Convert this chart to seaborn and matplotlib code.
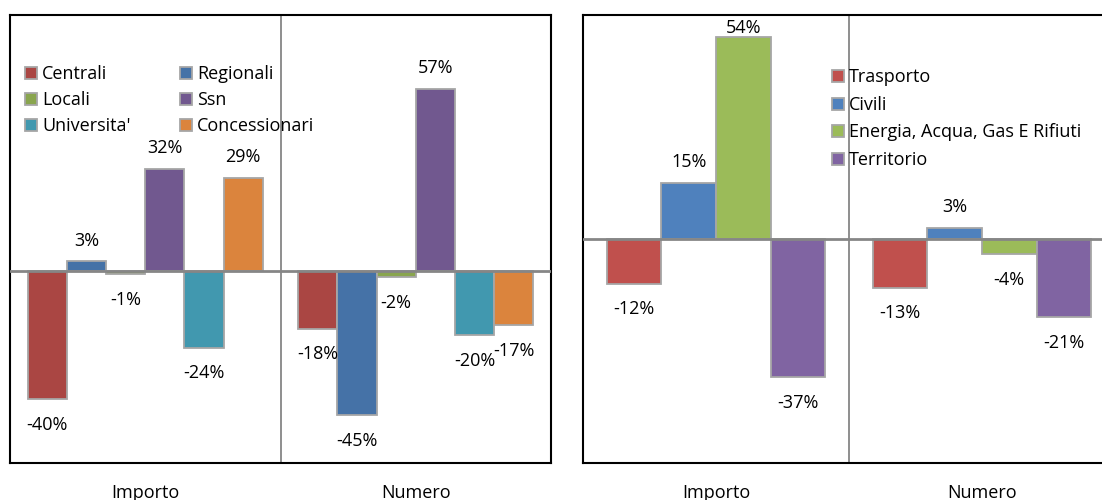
import matplotlib
matplotlib.use("Agg")
import matplotlib.pyplot as plt
import seaborn as sns
import pandas as pd

sns.set_theme(style="white")
plt.rcParams['font.family'] = ['Open Sans', 'DejaVu Sans']
plt.rcParams['text.color'] = 'black'
plt.rcParams['xtick.color'] = 'black'

# Data
groups = ["Importo", "Numero"]

enti = ["Centrali", "Regionali", "Locali", "Ssn", "Universita'", "Concessionari"]
enti_importo = [-40, 3, -1, 32, -24, 29]
enti_numero = [-18, -45, -2, 57, -20, -17]
enti_colors = ["#AA4643", "#4572A7", "#89A54E", "#71588F", "#4198AF", "#DB843D"]

settori = ["Trasporto", "Civili", "Energia, Acqua, Gas E Rifiuti", "Territorio"]
settori_importo = [-12, 15, 54, -37]
settori_numero = [-13, 3, -4, -21]
settori_colors = ["#C0504D", "#4F81BD", "#9BBB59", "#8064A2"]


def long_table(cats, importo, numero):
    rows = []
    for c, a, b in zip(cats, importo, numero):
        rows.append({"group": groups[0], "cat": c, "val": a})
        rows.append({"group": groups[1], "cat": c, "val": b})
    return pd.DataFrame(rows)


FS = 13
fig = plt.figure(figsize=(11.02, 5.0), dpi=100)
ax1 = fig.add_axes([10 / 1102, 37 / 500, 541 / 1102, 448 / 500])
ax2 = fig.add_axes([583 / 1102, 37 / 500, 532 / 1102, 448 / 500])


def draw_panel(ax, cats, importo, numero, colors, width, ylim, order, leg_kw):
    df = long_table(cats, importo, numero)
    sns.barplot(data=df, x="group", y="val", hue="cat", hue_order=cats,
                order=groups, palette=colors, width=width, gap=0,
                edgecolor="#a6a6a6", linewidth=1.3, saturation=1,
                ax=ax, zorder=2)
    ax.set_xlim(-0.5, 1.5)
    ax.set_ylim(*ylim)
    ax.set_yticks([])
    ax.set(xlabel="", ylabel="")
    ax.tick_params(axis="x", length=0, pad=15, labelsize=FS)
    ax.axhline(0, color="#868686", lw=2, zorder=3)
    ax.axvline(0.5, color="#868686", lw=1.3, zorder=1)
    for s in ax.spines.values():
        s.set_color("black")
        s.set_linewidth(1.5)
    for c in ax.containers:
        ax.bar_label(c, fmt="{:.0f}%", padding=12, fontsize=FS)
    # smaller gap above positive bars
    for t in ax.texts:
        if t.xyann[1] > 0:
            t.xyann = (0, 8.5)

    # legend, filled row by row like the original
    old = ax.get_legend()
    handles = list(old.legend_handles)
    labels = [t.get_text() for t in old.get_texts()]
    old.remove()
    ax.legend([handles[i] for i in order], [labels[i] for i in order],
              loc="upper left", frameon=False, fontsize=FS,
              handlelength=0.65, handleheight=0.65, handletextpad=0.3,
              borderpad=0, borderaxespad=0, **leg_kw)


draw_panel(ax1, enti, enti_importo, enti_numero, enti_colors, 0.87, (-60, 80),
           [0, 2, 4, 1, 3, 5],
           dict(ncol=2, bbox_to_anchor=(0.028, 0.888), labelspacing=0.45,
                columnspacing=2.73))
draw_panel(ax2, settori, settori_importo, settori_numero, settori_colors, 0.82,
           (-60, 60), [0, 1, 2, 3],
           dict(ncol=1, bbox_to_anchor=(0.468, 0.881), labelspacing=0.53))

# keep value labels inside the plot area (like the original)
fig.canvas.draw()
for ax in (ax1, ax2):
    axbb = ax.get_window_extent()
    for t in ax.texts:
        bb = t.get_window_extent()
        if bb.y1 > axbb.y1 - 4:
            dx, dy = t.xyann
            t.xyann = (dx, dy - (bb.y1 - axbb.y1 + 4) * 72 / fig.dpi)

fig.savefig("out.png", dpi=100)
